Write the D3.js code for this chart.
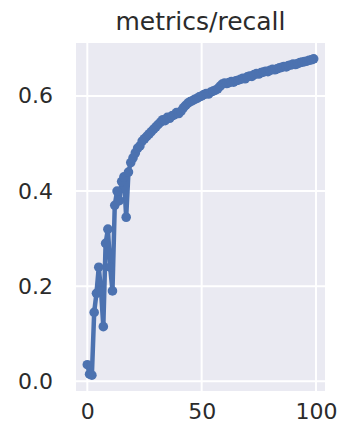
<!DOCTYPE html>
<html lang="en">
<head>
    <meta charset="UTF-8">
    <title>metrics/recall</title>
    <style>
        body { margin: 0; background: #fff; }
        svg { display: block; }
        text { font-family: 'DejaVu Sans', sans-serif; fill: #2b2b2b; }
    </style>
</head>
<body>
    <svg width="342" height="434"></svg>
    <script src="https://d3js.org/d3.v7.min.js"></script>
    <script>
        // Recall per epoch
        var recall = [
            0.035, 0.015, 0.013, 0.145, 0.185, 0.24, 0.19, 0.115, 0.29, 0.32,
            0.24, 0.19, 0.37, 0.40, 0.38, 0.42, 0.43, 0.345, 0.44, 0.46,
            0.47, 0.48, 0.49, 0.495, 0.505, 0.51, 0.515, 0.52, 0.525, 0.53,
            0.535, 0.54, 0.545, 0.55, 0.548, 0.555, 0.553, 0.558, 0.56, 0.565,
            0.563, 0.568, 0.575, 0.58, 0.585, 0.588, 0.59, 0.593, 0.595, 0.598,
            0.60, 0.603, 0.605, 0.604, 0.608, 0.61, 0.612, 0.615, 0.62, 0.625,
            0.627, 0.626, 0.628, 0.63, 0.629, 0.632, 0.633, 0.635, 0.637, 0.636,
            0.64, 0.642, 0.641, 0.645, 0.647, 0.646, 0.649, 0.65, 0.652, 0.651,
            0.654, 0.656, 0.655, 0.657, 0.659, 0.66, 0.662, 0.661, 0.664, 0.665,
            0.667, 0.666, 0.668, 0.67, 0.671, 0.672, 0.673, 0.675, 0.676, 0.678
        ];
        var xTicks = [0, 50, 100];
        var yTicks = [0.0, 0.2, 0.4, 0.6];

        var data = recall.map(function(v, i) { return {epoch: i, value: v}; });

        var svg = d3.select("svg"),
            margin = {top: 43, right: 17, bottom: 43, left: 76},
            width = +svg.attr("width") - margin.left - margin.right,
            height = +svg.attr("height") - margin.top - margin.bottom;

        // matplotlib style 5% padding
        var xmin = 0, xmax = recall.length - 1;
        var ymin = d3.min(recall), ymax = d3.max(recall);
        var xpad = (xmax - xmin) * 0.05, ypad = (ymax - ymin) * 0.05;

        var x = d3.scaleLinear().domain([xmin - xpad, xmax + xpad]).range([0, width]),
            y = d3.scaleLinear().domain([ymin - ypad, ymax + ypad]).range([height, 0]);

        var g = svg.append("g")
            .attr("transform", "translate(" + margin.left + "," + margin.top + ")");

        // plot background
        g.append("rect")
            .attr("width", width)
            .attr("height", height)
            .attr("fill", "#eaeaf2");

        // grid lines
        g.selectAll(".vgrid")
            .data(xTicks)
            .enter().append("line")
            .attr("x1", function(d) { return x(d); })
            .attr("x2", function(d) { return x(d); })
            .attr("y1", 0)
            .attr("y2", height)
            .attr("stroke", "#fff")
            .attr("stroke-width", 2);

        g.selectAll(".hgrid")
            .data(yTicks)
            .enter().append("line")
            .attr("y1", function(d) { return y(d); })
            .attr("y2", function(d) { return y(d); })
            .attr("x1", 0)
            .attr("x2", width)
            .attr("stroke", "#fff")
            .attr("stroke-width", 2);

        // axes (labels only, seaborn darkgrid has no tick marks)
        var xAxis = d3.axisBottom(x).tickValues(xTicks).tickSize(0).tickPadding(12).tickFormat(d3.format("d"));
        var yAxis = d3.axisLeft(y).tickValues(yTicks).tickSize(0).tickPadding(23).tickFormat(d3.format(".1f"));

        g.append("g")
            .attr("transform", "translate(0," + height + ")")
            .call(xAxis)
            .call(function(s) { s.select(".domain").remove(); })
            .selectAll("text")
            .attr("font-size", "22px")
            .attr("fill", "#2b2b2b");

        g.append("g")
            .call(yAxis)
            .call(function(s) { s.select(".domain").remove(); })
            .selectAll("text")
            .attr("font-size", "22px")
            .attr("fill", "#2b2b2b");

        // title
        svg.append("text")
            .attr("x", margin.left + width / 2)
            .attr("y", 30)
            .attr("text-anchor", "middle")
            .attr("font-size", "25px")
            .text("metrics/recall");

        // line with dots
        var line = d3.line()
            .x(function(d) { return x(d.epoch); })
            .y(function(d) { return y(d.value); });

        g.append("path")
            .datum(data)
            .attr("fill", "none")
            .attr("stroke", "#4c72b0")
            .attr("stroke-width", 4.5)
            .attr("stroke-linejoin", "round")
            .attr("d", line);

        g.selectAll(".dot")
            .data(data)
            .enter().append("circle")
            .attr("cx", function(d) { return x(d.epoch); })
            .attr("cy", function(d) { return y(d.value); })
            .attr("r", 4.8)
            .attr("fill", "#4c72b0");
    </script>
</body>
</html>
